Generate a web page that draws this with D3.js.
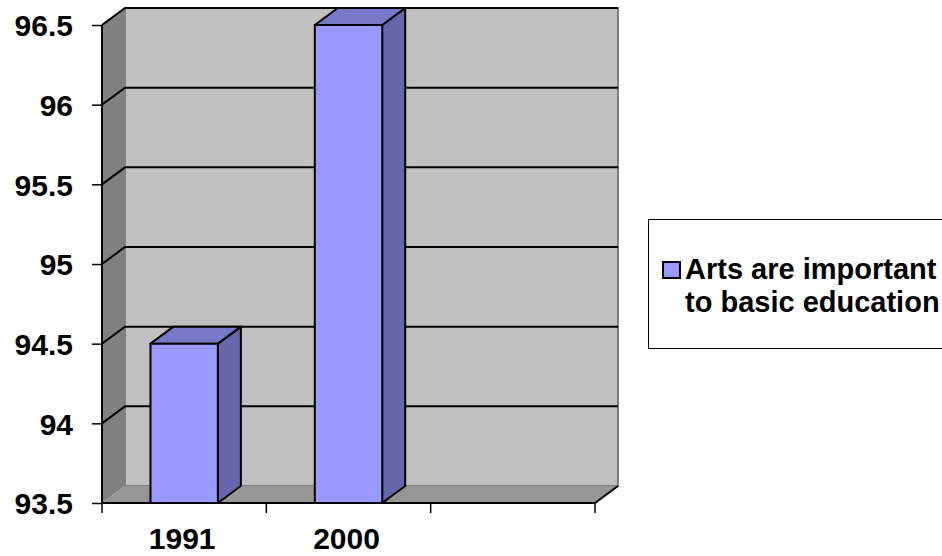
<!DOCTYPE html>
<html>
<head>
<meta charset="utf-8">
<script src="https://cdn.jsdelivr.net/npm/d3@7"></script>
<style>
  body { margin: 0; background: #fff; }
  svg { display: block; }
  text { font-family: "Liberation Sans", Arial, sans-serif; font-weight: bold; fill: #000; }
</style>
</head>
<body>
<svg id="chart" width="942" height="556"></svg>
<script>
const categories = ["1991", "2000", ""];
const values = [94.5, 96.5, null];
const yTicks = [93.5, 94, 94.5, 95, 95.5, 96, 96.5];
const seriesName = ["Arts are important", "to basic education"];

const svg = d3.select("#chart");
const depth = { dx: 23, dy: -17 };

const x = d3.scaleBand().domain(categories).range([102, 595]);
const y = d3.scaleLinear().domain([93.5, 96.5]).range([503, 25]);
const barW = x.bandwidth() * 0.41;

const x0 = x.range()[0], x1 = x.range()[1];
const yTop = y(96.5), yBot = y(93.5);
const line = d3.line();

// back wall
svg.append("path")
    .attr("d", line([[x0 + depth.dx, yTop + depth.dy], [x1 + depth.dx, yTop + depth.dy],
        [x1 + depth.dx, yBot + depth.dy], [x0 + depth.dx, yBot + depth.dy]]) + "Z")
    .attr("fill", "#c0c0c0")
    .attr("stroke", "#808080")
    .attr("stroke-width", 2);

// left wall
svg.append("path")
    .attr("d", line([[x0, yTop], [x0 + depth.dx, yTop + depth.dy],
        [x0 + depth.dx, yBot + depth.dy], [x0, yBot]]) + "Z")
    .attr("fill", "#808080");

// floor
svg.append("path")
    .attr("d", line([[x0, yBot], [x1, yBot], [x1 + depth.dx, yBot + depth.dy],
        [x0 + depth.dx, yBot + depth.dy]]) + "Z")
    .attr("fill", "#969696");

// gridlines
const grid = svg.append("g").attr("stroke", "#000").attr("stroke-width", 2).attr("fill", "none");
yTicks.filter(v => v > 93.5).forEach(v => {
    grid.append("path").attr("d", line([[x0, y(v)], [x0 + depth.dx, y(v) + depth.dy],
        [x1 + depth.dx, y(v) + depth.dy]]));
});
grid.append("path").attr("d", line([[x0, yBot], [x1, yBot], [x1 + depth.dx, yBot + depth.dy]]));
grid.append("path").attr("d", line([[x0, yTop], [x0, yBot]]));

// bars
const bars = svg.append("g").attr("stroke", "#000").attr("stroke-width", 2).attr("stroke-linejoin", "round");
categories.forEach((c, i) => {
    if (values[i] == null) return;
    const bx = x(c) + (x.bandwidth() - barW) / 2;
    const top = y(values[i]);
    bars.append("path")
        .attr("d", line([[bx + barW, top], [bx + barW + depth.dx, top + depth.dy],
            [bx + barW + depth.dx, yBot + depth.dy], [bx + barW, yBot]]) + "Z")
        .attr("fill", "#6666aa");
    bars.append("path")
        .attr("d", line([[bx, top], [bx + depth.dx, top + depth.dy],
            [bx + barW + depth.dx, top + depth.dy], [bx + barW, top]]) + "Z")
        .attr("fill", "#7878c8");
    bars.append("rect")
        .attr("x", bx).attr("y", top)
        .attr("width", barW).attr("height", yBot - top)
        .attr("fill", "#9999ff");
});

// y axis
const yAxis = svg.append("g").attr("transform", `translate(${x0},0)`)
    .call(d3.axisLeft(y).tickValues(yTicks).tickSize(10).tickPadding(19).tickFormat(d3.format("")));
yAxis.select(".domain").remove();
yAxis.selectAll(".tick line").attr("stroke", "#000").attr("stroke-width", 1.5);
yAxis.selectAll(".tick text").style("font-size", "30px").attr("dy", "0.36em");

// x axis
const xAxis = svg.append("g").attr("transform", `translate(0,${yBot})`)
    .call(d3.axisBottom(x).tickSize(0).tickPadding(25));
xAxis.select(".domain").remove();
xAxis.selectAll(".tick text").style("font-size", "30px").attr("dx", "-2");
xAxis.selectAll(".sep").data(d3.range(categories.length + 1)).join("line")
    .attr("x1", i => x0 + i * x.step()).attr("x2", i => x0 + i * x.step())
    .attr("y1", 0).attr("y2", 10)
    .attr("stroke", "#000").attr("stroke-width", 1.5);

// legend
const legend = svg.append("g");
legend.append("rect")
    .attr("x", 648.5).attr("y", 219.5).attr("width", 300).attr("height", 129)
    .attr("fill", "#fff").attr("stroke", "#000").attr("stroke-width", 1);
legend.append("rect")
    .attr("x", 663).attr("y", 262).attr("width", 17).attr("height", 16)
    .attr("fill", "#9999ff").attr("stroke", "#000").attr("stroke-width", 2);
legend.append("text")
    .attr("x", 685).attr("y", 279)
    .style("font-size", "29px")
    .selectAll("tspan").data(seriesName).join("tspan")
    .attr("x", 685).attr("dy", (d, i) => i ? 33 : 0)
    .text(d => d);
</script>
</body>
</html>
